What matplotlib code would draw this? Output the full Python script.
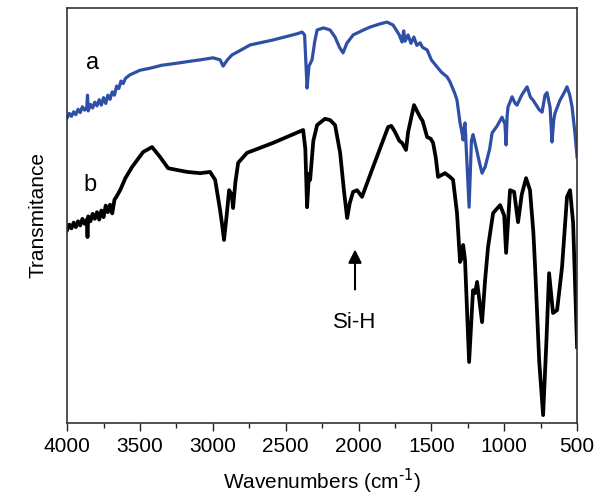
import matplotlib
matplotlib.use("Agg")
import matplotlib.pyplot as plt
from matplotlib.ticker import MultipleLocator

plt.rcParams['font.family'] = ['Liberation Sans', 'DejaVu Sans']

# spectrum a (blue): wavenumber (cm-1) and transmittance (a.u.)
wn_a = [4000, 3985, 3970, 3955, 3940, 3925, 3910, 3895, 3880, 3865, 3860, 3855,
        3840, 3825, 3810, 3795, 3780, 3765, 3750, 3735, 3720, 3705, 3690, 3675,
        3660, 3645, 3630, 3615, 3600, 3580, 3568, 3500, 3430, 3350, 3245, 3150,
        3087, 2998, 2950, 2929, 2900, 2868, 2800, 2744, 2586, 2420, 2387, 2370,
        2353, 2340, 2319, 2300, 2284, 2240, 2195, 2161, 2130, 2106, 2080, 2037,
        1960, 1921, 1850, 1804, 1763, 1720, 1701, 1690, 1680, 1660, 1640, 1620,
        1600, 1577, 1560, 1529, 1500, 1461, 1430, 1392, 1372, 1340, 1324, 1303,
        1290, 1282, 1275, 1269, 1241, 1225, 1214, 1200, 1186, 1165, 1152, 1131,
        1100, 1083, 1050, 1015, 995, 987, 980, 974, 946, 925, 912, 880, 843, 820,
        802, 760, 740, 720, 706, 685, 672, 660, 651, 617, 590, 569, 550, 534,
        515, 500]
t_a = [73.5, 74.6, 73.9, 75.0, 74.3, 75.6, 74.8, 76.2, 75.4, 76.0, 79.0, 75.2,
       76.8, 75.9, 77.3, 76.4, 77.9, 76.6, 78.4, 77.0, 79.0, 78.0, 79.8, 79.0,
       81.2, 80.6, 82.4, 81.8, 83.0, 83.6, 83.9, 85.0, 85.5, 86.2, 86.7, 87.2,
       87.5, 88.0, 87.5, 86.0, 87.5, 88.7, 90.0, 91.1, 92.3, 93.8, 94.2, 93.5,
       80.7, 86.0, 87.5, 92.0, 94.7, 95.2, 94.7, 93.0, 90.5, 89.2, 91.5, 93.5,
       94.8, 95.4, 96.2, 96.6, 95.9, 93.5, 91.8, 94.5, 92.0, 93.5, 91.5, 93.0,
       91.0, 91.6, 90.5, 89.9, 87.5, 85.8, 84.5, 83.4, 82.2, 79.5, 77.8, 72.3,
       70.0, 68.2, 71.0, 72.3, 52.0, 68.0, 69.5, 67.5, 65.3, 62.0, 60.2, 61.7,
       66.0, 69.9, 71.5, 73.7, 72.0, 67.0, 74.0, 76.1, 78.6, 77.0, 76.6, 79.0,
       81.0, 78.5, 77.8, 75.5, 74.9, 79.0, 79.6, 76.0, 67.7, 73.0, 74.7, 77.8,
       79.5, 81.0, 79.0, 76.1, 70.0, 64.1]

# spectrum b (black)
wn_b = [4000, 3985, 3970, 3955, 3940, 3925, 3910, 3895, 3880, 3865, 3860, 3855,
        3840, 3825, 3810, 3795, 3780, 3765, 3750, 3735, 3720, 3705, 3690, 3675,
        3660, 3636, 3600, 3554, 3478, 3417, 3362, 3307, 3250, 3176, 3087, 3019,
        2984, 2950, 2935, 2923, 2905, 2888, 2870, 2861, 2845, 2826, 2765, 2586,
        2380, 2365, 2353, 2340, 2332, 2310, 2284, 2230, 2195, 2161, 2126, 2100,
        2078, 2060, 2037, 2010, 1976, 1900, 1797, 1775, 1749, 1720, 1701, 1674,
        1660, 1646, 1619, 1577, 1560, 1529, 1505, 1488, 1470, 1454, 1406, 1372,
        1351, 1324, 1303, 1290, 1282, 1269, 1241, 1214, 1200, 1186, 1152, 1131,
        1111, 1076, 1028, 1000, 987, 960, 932, 905, 880, 850, 823, 800, 788,
        760, 733, 710, 692, 665, 637, 603, 569, 548, 527, 500]
t_b = [46.5, 47.8, 46.9, 48.3, 47.2, 48.6, 47.6, 49.2, 48.0, 49.0, 44.8, 49.8,
       48.6, 50.4, 49.2, 50.8, 49.0, 51.2, 49.6, 52.4, 50.8, 52.6, 50.5, 53.8,
       54.6, 56.1, 59.0, 61.7, 65.3, 66.5, 64.1, 61.4, 61.0, 60.5, 60.2, 60.5,
       58.6, 51.3, 47.5, 44.1, 50.0, 56.1, 55.0, 51.8, 58.0, 62.7, 65.1, 67.5,
       70.6, 66.0, 52.0, 60.0, 58.6, 68.0, 71.8, 73.3, 73.0, 71.8, 65.1, 56.0,
       49.4, 53.0, 55.7, 56.1, 54.5, 61.7, 71.3, 71.6, 70.1, 68.0, 67.5, 65.8,
       70.0, 72.3, 76.6, 73.7, 72.8, 68.9, 68.5, 67.5, 64.0, 59.3, 60.2, 59.3,
       58.6, 50.6, 38.8, 40.0, 42.9, 39.3, 14.7, 32.0, 31.3, 34.0, 24.3, 34.5,
       42.4, 50.6, 52.5, 50.0, 41.0, 56.1, 55.7, 48.4, 55.0, 59.0, 56.1, 46.0,
       37.6, 15.0, 1.9, 20.0, 36.1, 26.5, 27.2, 37.6, 54.5, 56.1, 48.2, 18.3]

x_ticks = [4000, 3500, 3000, 2500, 2000, 1500, 1000, 500]

fig = plt.figure(figsize=(6.1, 5.0), dpi=100)
ax = fig.add_axes([0.110, 0.154, 0.836, 0.830])

ax.plot(wn_a, t_a, color='#2f4fa6', lw=2.3, solid_joinstyle='round')
ax.plot(wn_b, t_b, color='black', lw=2.7, solid_joinstyle='round')

ax.set_xlim(4000, 500)
ax.set_ylim(0, 100)
ax.set_xticks(x_ticks)
ax.xaxis.set_minor_locator(MultipleLocator(250))
ax.set_yticks([])
ax.tick_params(axis='x', which='major', direction='out', length=6, width=1,
               labelsize=15, pad=4, colors='#222222', labelcolor='black')
ax.tick_params(axis='x', which='minor', direction='out', length=3.5, width=1,
               colors='#222222')
for s in ax.spines.values():
    s.set_color('#333333')
    s.set_linewidth(1.2)

ax.set_xlabel(r'Wavenumbers (cm$^{\text{-}1}$)', fontsize=15, labelpad=8)
ax.set_ylabel('Transmitance', fontsize=15, labelpad=14)

ax.text(3822, 86.7, 'a', fontsize=17, ha='center', va='center')
ax.text(3842, 57.3, 'b', fontsize=17, ha='center', va='center')

# Si-H band marker
ax.annotate('', xy=(2024, 42.5), xytext=(2024, 31.5),
            arrowprops=dict(arrowstyle='-|>', color='black', lw=1.5,
                            mutation_scale=20))
ax.text(2024, 24.3, 'Si-H', fontsize=16, ha='center', va='center')

fig.savefig('out.png', dpi=100)
